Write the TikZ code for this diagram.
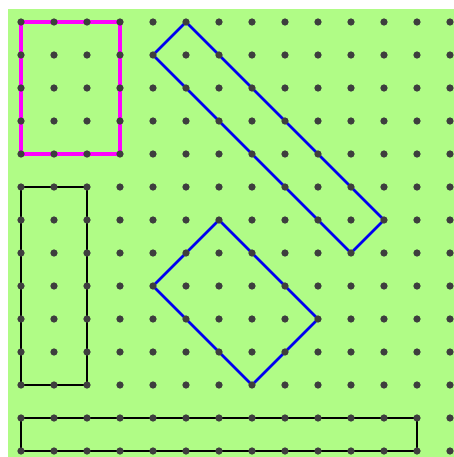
\documentclass[tikz,border=0pt]{standalone}
\definecolor{board}{RGB}{176,252,134}
\definecolor{peg}{RGB}{62,62,62}
\definecolor{band}{RGB}{0,0,240}
\definecolor{pinkband}{RGB}{255,0,255}
\begin{document}
\begin{tikzpicture}[x=1cm,y=-1cm]
\useasboundingbox (-0.636,-0.667) rectangle (13.121,13.182);
\fill[board] (-0.394,-0.394) rectangle (13.121,13.182);
% rubber bands
\draw[pinkband,line width=3pt] (0,0) rectangle (3,4);
\draw[black,line width=2.4pt] (0,5) rectangle (2,11);
\draw[black,line width=2.4pt] (0,12) rectangle (12,13);
\draw[band,line width=2.2pt] (5,0) -- (4,1) -- (10,7) -- (11,6) -- cycle;
\draw[band,line width=2.2pt] (6,6) -- (4,8) -- (7,11) -- (9,9) -- cycle;
% pegs
\foreach \i in {0,...,13}
  \foreach \j in {0,...,13}
    \fill[peg] (\i,\j) circle (0.11);
\end{tikzpicture}
\end{document}
